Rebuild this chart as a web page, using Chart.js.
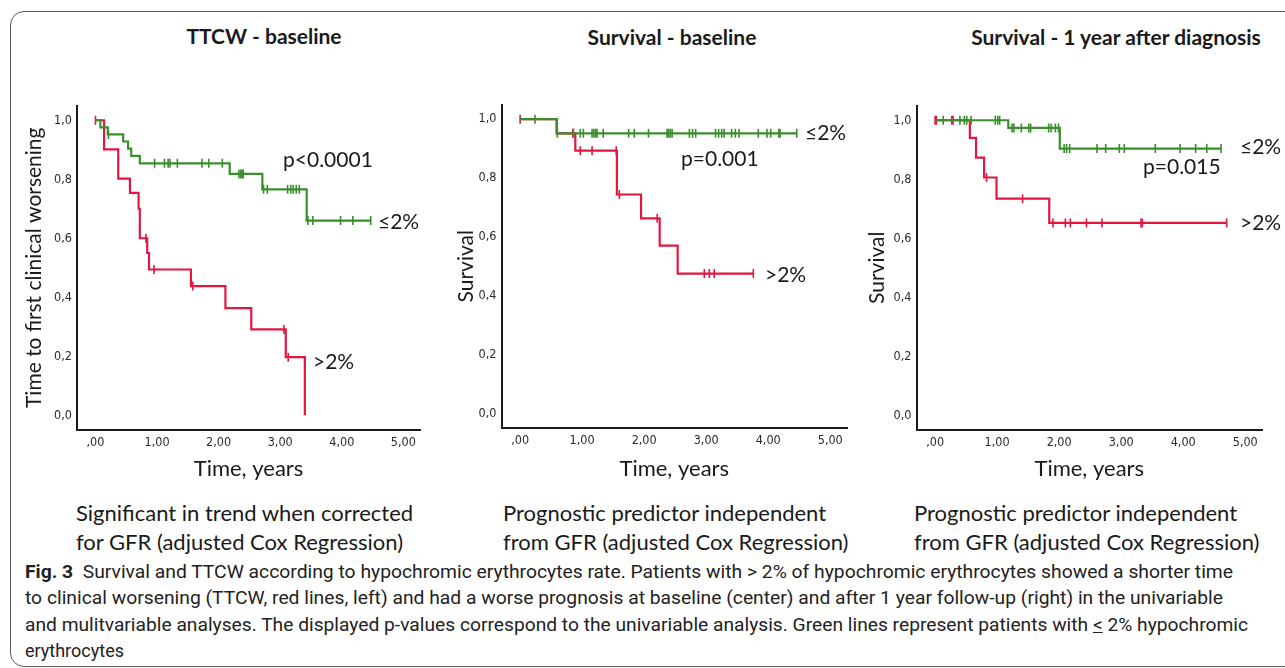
<!DOCTYPE html>
<html>
<head>
<meta charset="utf-8">
<script src="https://cdn.jsdelivr.net/npm/chart.js@4.4.1/dist/chart.umd.min.js"></script>
<style>
    body { margin: 0; width: 1285px; height: 668px; overflow: hidden; position: relative; background: #fff; font-family: Lato, "Open Sans", sans-serif; color: #1a1a1a; }
    .frame { position: absolute; left: 10px; top: 11px; width: 1330px; height: 654px; border: 1.5px solid #5a5a5a; border-radius: 14px; }
    .t { position: absolute; white-space: nowrap; line-height: 1; }
    .ttl { font-weight: 700; font-size: 21px; transform: translate(-50%, -50%); }
    .ann { font-size: 21px; transform: translateY(-50%); }
    .note { font-size: 22px; line-height: 29px; }
    .cap { position: absolute; left: 25px; font-family: Roboto, "Noto Sans", sans-serif; font-size: 18px; color: #222; white-space: nowrap; transform-origin: 0 50%; }
    canvas { position: absolute; }
</style>
</head>
<body>
<div class="frame"></div>

<div class="t ttl" style="left:264px;top:35px">TTCW - baseline</div>
<div class="t ttl" style="left:672px;top:36px">Survival - baseline</div>
<div class="t ttl" style="left:1116px;top:36px">Survival - 1 year after diagnosis</div>

<canvas id="c1" width="410" height="392" style="left:20px;top:93px"></canvas>
<canvas id="c2" width="412" height="391" style="left:445px;top:92px"></canvas>
<canvas id="c3" width="415" height="392" style="left:857px;top:93px"></canvas>

<div class="t ann" style="left:283px;top:158px">p&lt;0.0001</div>
<div class="t ann" style="left:378px;top:220px">≤2%</div>
<div class="t ann" style="left:313px;top:360px">&gt;2%</div>

<div class="t ann" style="left:805px;top:131px">≤2%</div>
<div class="t ann" style="left:681px;top:157px">p=0.001</div>
<div class="t ann" style="left:765px;top:273px">&gt;2%</div>

<div class="t ann" style="left:1240px;top:145px">≤2%</div>
<div class="t ann" style="left:1143px;top:165px">p=0.015</div>
<div class="t ann" style="left:1240px;top:221px">&gt;2%</div>

<div class="t note" style="left:76px;top:498px">Significant in trend when corrected<br>for GFR (adjusted Cox Regression)</div>
<div class="t note" style="left:503px;top:498px">Prognostic predictor independent<br>from GFR (adjusted Cox Regression)</div>
<div class="t note" style="left:914px;top:498px">Prognostic predictor independent<br>from GFR (adjusted Cox Regression)</div>

<div class="cap" id="cap1" style="top:561px"><b>Fig. 3</b>&nbsp; Survival and TTCW according to hypochromic erythrocytes rate. Patients with &gt; 2% of hypochromic erythrocytes showed a shorter time</div>
<div class="cap" id="cap2" style="top:587px">to clinical worsening (TTCW, red lines, left) and had a worse prognosis at baseline (center) and after 1 year follow-up (right) in the univariable</div>
<div class="cap" id="cap3" style="top:614px">and mulitvariable analyses. The displayed p-values correspond to the univariable analysis. Green lines represent patients with <u>&lt;</u> 2% hypochromic</div>
<div class="cap" id="cap4" style="top:640px">erythrocytes</div>

<script>
/* ---------- ejes ---------- */
const X_TICKS = [0, 1, 2, 3, 4, 5];
const X_TICK_LABELS = [",00", "1,00", "2,00", "3,00", "4,00", "5,00"];
const Y_TICKS = [0, 0.2, 0.4, 0.6, 0.8, 1];
const Y_TICK_LABELS = ["0,0", "0,2", "0,4", "0,6", "0,8", "1,0"];

/* ---------- TTCW - baseline ---------- */
const ttcwLowTime = [0, 0.08, 0.20, 0.45, 0.53, 0.58, 0.72, 2.18, 2.71, 3.43, 4.47];
const ttcwLowSurv = [1, 0.976, 0.952, 0.928, 0.904, 0.879, 0.854, 0.818, 0.766, 0.66, 0.66];
const ttcwLowCens = [0.21, 0.96, 1.12, 1.18, 1.21, 1.33, 1.73, 1.84, 2.06, 2.33, 2.36, 2.38, 2.40,
                     2.73, 2.79, 3.12, 3.17, 3.21, 3.26, 3.31, 3.45, 3.53, 3.98, 4.18, 4.47];
const ttcwHighTime = [0, 0.14, 0.37, 0.56, 0.70, 0.72, 0.84, 0.87, 1.55, 2.11, 2.53, 3.09, 3.40];
const ttcwHighSurv = [1, 0.901, 0.802, 0.754, 0.70, 0.60, 0.55, 0.494, 0.438, 0.363, 0.291, 0.197, 0];
const ttcwHighCens = [0, 0.82, 0.95, 1.58, 3.06, 3.13];

/* ---------- Survival - baseline ---------- */
const baseLowTime = [0, 0.59, 4.46];
const baseLowSurv = [1, 0.952, 0.952];
const baseLowCens = [0.24, 0.60, 0.86, 0.97, 1.02, 1.16, 1.19, 1.22, 1.24, 1.34, 1.75, 1.84, 2.07,
                     2.37, 2.39, 2.42, 2.45, 2.73, 2.78, 2.83, 3.15, 3.20, 3.25, 3.29, 3.41, 3.47,
                     3.53, 3.84, 3.98, 4.04, 4.17, 4.19, 4.46];
const baseHighTime = [0, 0.59, 0.89, 1.56, 1.95, 2.25, 2.54, 3.76];
const baseHighSurv = [1, 0.952, 0.893, 0.744, 0.663, 0.57, 0.475, 0.475];
const baseHighCens = [0, 0.85, 0.97, 1.16, 1.55, 1.60, 2.21, 2.97, 3.05, 3.13, 3.76];

/* ---------- Survival - 1 year after diagnosis ---------- */
const yearLowTime = [0, 1.18, 2.01, 4.61];
const yearLowSurv = [1, 0.974, 0.904, 0.904];
const yearLowCens = [0.13, 0.40, 0.47, 0.51, 0.58, 0.97, 1.01, 1.04, 1.24, 1.27, 1.39, 1.51, 1.54,
                     1.83, 1.87, 1.94, 1.99, 2.08, 2.12, 2.17, 2.61, 2.75, 2.97, 3.05, 3.55, 3.95,
                     4.20, 4.38, 4.61];
const yearHighTime = [0, 0.56, 0.66, 0.79, 0.99, 1.84, 4.70];
const yearHighSurv = [1, 0.94, 0.873, 0.806, 0.734, 0.652, 0.652];
const yearHighCens = [0, 0.02, 0.27, 0.29, 0.83, 1.41, 1.90, 2.10, 2.18, 2.44, 2.69, 3.32, 3.34, 4.70];

const GREEN = "#3a8e2c";
const RED = "#e2173f";

function curvePoints(times, surv) {
    return times.map((t, i) => ({ x: t, y: surv[i] }));
}

// valor de la curva en el instante de la censura
function censPoints(times, surv, cens) {
    return cens.map(t => {
        let s = surv[0];
        for (let i = 0; i < times.length; i++) if (times[i] <= t) s = surv[i];
        return { x: t, y: s };
    });
}

function lineSet(data, color) {
    return { data, showLine: true, stepped: true, borderColor: color, borderWidth: 2.2,
             pointRadius: 0, fill: false };
}

function censSet(data, color) {
    return { data, showLine: false, pointStyle: "line", rotation: 90, pointRadius: 4.5,
             borderColor: color, backgroundColor: color, pointBorderWidth: 1.6 };
}

function crearPanel(id, g, opt) {
    const tickFont = { family: "'Liberation Sans Narrow', 'DejaVu Sans Condensed', sans-serif", size: 12.5 };
    return new Chart(document.getElementById(id), {
        type: "scatter",
        data: {
            datasets: [
                lineSet(curvePoints(g.lowT, g.lowS), GREEN),
                lineSet(curvePoints(g.highT, g.highS), RED),
                censSet(censPoints(g.lowT, g.lowS, g.lowC), GREEN),
                censSet(censPoints(g.highT, g.highS, g.highC), RED)
            ]
        },
        options: {
            responsive: false,
            animation: false,
            layout: { padding: { top: 10, right: 10, left: 0, bottom: 0 } },
            plugins: { legend: { display: false }, tooltip: { enabled: false } },
            scales: {
                x: {
                    type: "linear", min: -0.3, max: 5.27,
                    grid: { display: false, drawTicks: false },
                    border: { display: true, color: "#1a1a1a", width: 2 },
                    afterBuildTicks: s => { s.ticks = X_TICKS.map(v => ({ value: v })); },
                    afterFit: s => { s.height = 55; },
                    ticks: { font: tickFont, color: "#2a2a2a", padding: 5,
                             callback: (v) => X_TICK_LABELS[X_TICKS.indexOf(v)] },
                    title: { display: true, text: "Time, years", color: "#1a1a1a",
                             font: { family: "Lato, 'Open Sans', sans-serif", size: 22 },
                             padding: { top: 0, bottom: opt.xTitlePad } }
                },
                y: {
                    type: "linear", min: -0.05, max: 1.05,
                    grid: { display: false, drawTicks: false },
                    border: { display: true, color: "#1a1a1a", width: 2 },
                    afterBuildTicks: s => { s.ticks = Y_TICKS.map(v => ({ value: v })); },
                    afterFit: s => { s.width = opt.yWidth; },
                    ticks: { font: tickFont, color: "#2a2a2a", padding: 5,
                             callback: (v) => Y_TICK_LABELS[Y_TICKS.indexOf(v)] },
                    title: { display: true, text: opt.yTitle, color: "#1a1a1a",
                             font: { family: "Lato, 'Open Sans', sans-serif", size: opt.yTitleSize },
                             padding: { top: opt.yTitlePad, bottom: 0 } }
                }
            }
        }
    });
}

crearPanel("c1",
    { lowT: ttcwLowTime, lowS: ttcwLowSurv, lowC: ttcwLowCens,
      highT: ttcwHighTime, highS: ttcwHighSurv, highC: ttcwHighCens },
    { yWidth: 57, yTitle: "Time to first clinical worsening", yTitleSize: 21, yTitlePad: 2, xTitlePad: 3 });

crearPanel("c2",
    { lowT: baseLowTime, lowS: baseLowSurv, lowC: baseLowCens,
      highT: baseHighTime, highS: baseHighSurv, highC: baseHighCens },
    { yWidth: 56.5, yTitle: "Survival", yTitleSize: 21, yTitlePad: 9, xTitlePad: 1 });

crearPanel("c3",
    { lowT: yearLowTime, lowS: yearLowSurv, lowC: yearLowCens,
      highT: yearHighTime, highS: yearHighSurv, highC: yearHighCens },
    { yWidth: 59.5, yTitle: "Survival", yTitleSize: 21, yTitlePad: 8, xTitlePad: 3 });

/* ajustar ancho de las líneas del pie de figura */
const CAP_WIDTHS = { cap1: 1208, cap2: 1198, cap3: 1223 };
for (const id in CAP_WIDTHS) {
    const el = document.getElementById(id);
    const w = el.getBoundingClientRect().width;
    el.style.transform = `scaleX(${CAP_WIDTHS[id] / w})`;
}
</script>
</body>
</html>
